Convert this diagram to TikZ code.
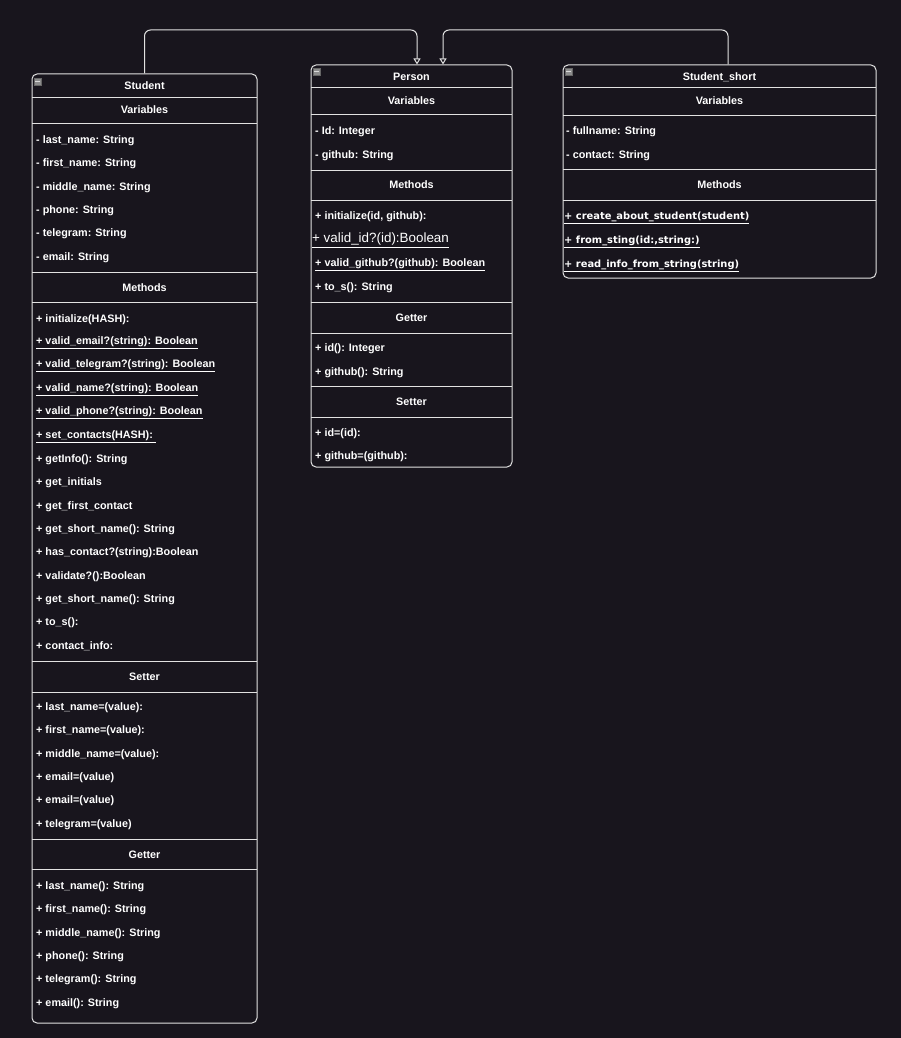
\documentclass[tikz,border=0pt]{standalone}
\usepackage{fontspec}
\setmainfont{Liberation Sans}
\newfontfamily\sketchfont{DejaVu Sans}
\usetikzlibrary{arrows.meta,positioning}
\definecolor{bgdark}{RGB}{24,21,29}
\definecolor{linegray}{RGB}{226,226,226}
\definecolor{icongray}{RGB}{140,140,140}

\begin{document}
\begin{tikzpicture}[x=1pt,y=-1pt,>={Triangle[open,length=6pt,width=7pt]},
		classbox/.style={draw=linegray,line width=1pt,rounded corners=5pt,inner sep=0pt},
		sepline/.style={draw=linegray,line width=1pt},
		title/.style={text=white,inner sep=0pt,yshift=-1pt,font=\bfseries\fontsize{10.8}{12}\selectfont},
		item/.style={text=white,anchor=west,inner sep=0pt,yshift=-1.5pt,font=\bfseries\fontsize{10.8}{12}\selectfont},
		sketchitem/.style={item,font=\sketchfont\bfseries\fontsize{9.9}{12}\selectfont},
		icon/.style={fill=icongray,draw=black!60,minimum size=7pt,inner sep=0pt},
		link/.style={draw=linegray,line width=1pt,rounded corners=6pt,->}]

		\fill[bgdark] (0,0) rectangle (901,1038);
		\useasboundingbox (0,0) rectangle (901,1038);

		% class boxes
		\node[classbox, minimum width=225pt, minimum height=949pt]	(stdt)	at (144.5,548.5)	{};
		\node[classbox, minimum width=201pt, minimum height=402pt]	(prsn)	at (411.5,266)	{};
		\node[classbox, minimum width=313pt, minimum height=213pt]	(stsh)	at (719.5,171.5)	{};

		\node[icon]	(stdtic)	at (37.5,81.5)	{};
		\node[icon]	(prsnic)	at (316.5,72)	{};
		\node[icon]	(stshic)	at (568.5,72)	{};
		\foreach \ic in {stdtic,prsnic,stshic}
			\draw[white!85!black, line width=1pt] ([xshift=1.5pt]\ic.west) -- ([xshift=-1.5pt]\ic.east);

		% compartments
		\foreach \y in {98,124,272,302,661,692,839,869}
			\draw[sepline] (32,\y) -- (257,\y);
		\foreach \y in {88,115,170,200,302,333,386,417}
			\draw[sepline] (311,\y) -- (512,\y);
		\foreach \y in {88,116,169,200}
			\draw[sepline] (563,\y) -- (876,\y);

		% Student
		\node[title]	(stdtt)	at (144.5,85)	{Student};
		\node[title]	(stdtv)	at (144.5,109)	{Variables};
		\node[title]	(stdtm)	at (144.5,287)	{Methods};
		\node[title]	(stdts)	at (144.5,676)	{Setter};
		\node[title]	(stdtg)	at (144.5,854)	{Getter};
		\foreach \t [count=\i from 0] in {- last\_name: String,- first\_name: String,- middle\_name: String,
				- phone: String,- telegram: String,- email: String}
			\node[item]	(stdtv\i)	at (36,139+23.4*\i)	{\t};
		\foreach \t [count=\i from 0] in {+ initialize(HASH):,
				\underline{+ valid\_email?(string): Boolean},
				\underline{+ valid\_telegram?(string): Boolean},
				\underline{+ valid\_name?(string): Boolean},
				\underline{+ valid\_phone?(string): Boolean},
				\underline{+ set\_contacts(HASH):\ },
				+ getInfo(): String,+ get\_initials,+ get\_first\_contact,+ get\_short\_name(): String,
				+ has\_contact?(string):Boolean,+ validate?():Boolean,+ get\_short\_name(): String,
				+ to\_s():,+ contact\_info:}
			\node[item]	(stdtm\i)	at (36,318+23.36*\i)	{\t};
		\foreach \t [count=\i from 0] in {+ last\_name=(value):,+ first\_name=(value):,+ middle\_name=(value):,
				+ email=(value),+ email=(value),+ telegram=(value)}
			\node[item]	(stdts\i)	at (36,706+23.4*\i)	{\t};
		\foreach \t [count=\i from 0] in {+ last\_name(): String,+ first\_name(): String,+ middle\_name(): String,
				+ phone(): String,+ telegram(): String,+ email(): String}
			\node[item]	(stdtg\i)	at (36,885+23.4*\i)	{\t};

		% Person
		\node[title]	(prsnt)	at (411.5,76)	{Person};
		\node[title]	(prsnv)	at (411.5,100)	{Variables};
		\node[title]	(prsnm)	at (411.5,184)	{Methods};
		\node[title]	(prsng)	at (411.5,317)	{Getter};
		\node[title]	(prsns)	at (411.5,401)	{Setter};
		\node[item]	(prsnv0)	at (315,130)	{- Id: Integer};
		\node[item]	(prsnv1)	at (315,154)	{- github: String};
		\node[item]	(prsnm0)	at (315,215)	{+ initialize(id, github):};
		\node[item, font=\fontsize{13.4}{15}\selectfont]	(prsnm1)	at (312,239)	{\underline{+ valid\_id?(id):Boolean}};
		\node[item]	(prsnm2)	at (315,263)	{\underline{+ valid\_github?(github): Boolean}};
		\node[item]	(prsnm3)	at (315,286)	{+ to\_s(): String};
		\node[item]	(prsng0)	at (315,347)	{+ id(): Integer};
		\node[item]	(prsng1)	at (315,371)	{+ github(): String};
		\node[item]	(prsns0)	at (315,432)	{+ id=(id):};
		\node[item]	(prsns1)	at (315,455)	{+ github=(github):};

		% Student_short
		\node[title]	(stsht)	at (719.5,76)	{Student\_short};
		\node[title]	(stshv)	at (719.5,100)	{Variables};
		\node[title]	(stshm)	at (719.5,184)	{Methods};
		\node[item]	(stshv0)	at (566,130)	{- fullname: String};
		\node[item]	(stshv1)	at (566,154)	{- contact: String};
		\foreach \t [count=\i from 0] in {\underline{+ create\_about\_student(student)},
				\underline{+ from\_sting(id:{,}string:)},
				\underline{+ read\_info\_from\_string(string)}}
			\node[sketchitem]	(stshm\i)	at (564,216+24*\i)	{\t};

		% generalisation links
		\coordinate	(lnkl)	at (417,30);
		\coordinate	(lnkr)	at (443,30);
		\draw[link]	(stdt.north) |- (lnkl) -- ([xshift=5.5pt]prsn.north);
		\draw[link]	([xshift=8.5pt]stsh.north) |- (lnkr) -- ([xshift=31.5pt]prsn.north);
	\end{tikzpicture}
\end{document}
